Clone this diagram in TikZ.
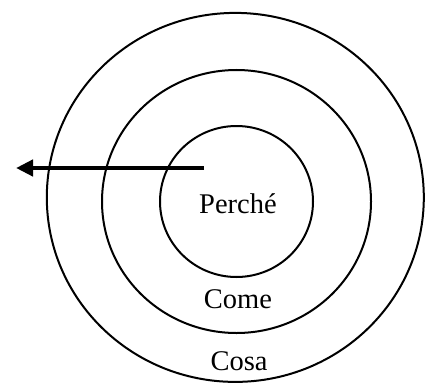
\documentclass[tikz,border=0pt]{standalone}
\usepackage{fontspec}
\setmainfont{Liberation Serif}
\usepackage{tikz}
\usetikzlibrary{arrows.meta,positioning,shapes.geometric}

\begin{document}
\begin{tikzpicture}[x=1pt,y=1pt,font=\fontsize{28.5}{34}\selectfont,
  ring/.style={draw,ellipse,line width=2pt,inner sep=0pt},
  label/.style={anchor=base,inner sep=0pt}]
  \useasboundingbox (0,0) rectangle (433,389);
  % rings, outer to inner
  \node[ring,minimum width=377,minimum height=369] (cosaring) at (235.3,191.6) {};
  \node[ring,minimum width=269,minimum height=263] (comering) at (236.5,187.5) {};
  \node[ring,minimum width=153,minimum height=151] (percheing) at (236.5,187.5) {};

  \node[label] (perche) at (238,176) {Perché};
  \node[label] (come) at (238,81) {Come};
  \node[label] (cosa) at (239,19) {Cosa};

  % arrow out of the centre
  \coordinate (start) at (204,221);
  \coordinate (tip) at (16,221);
  \draw[line width=4.8pt,-{Triangle[length=17pt,width=16pt]}] (start) -- (tip);
\end{tikzpicture}
\end{document}
